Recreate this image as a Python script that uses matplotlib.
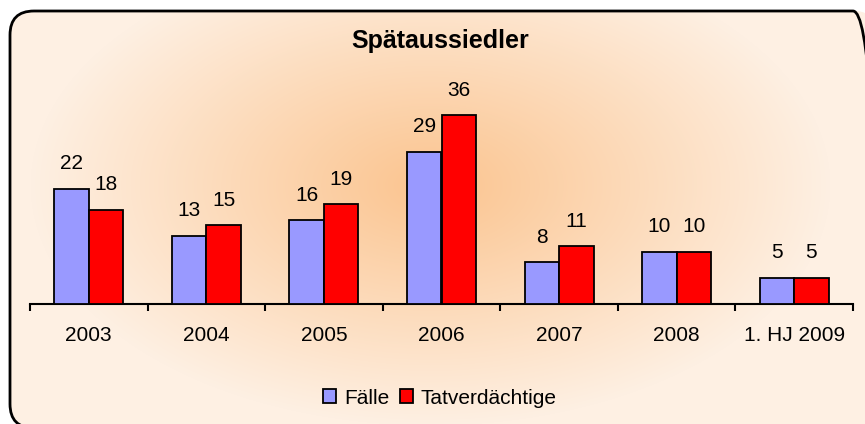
import numpy as np
import matplotlib
matplotlib.use("Agg")
import matplotlib.pyplot as plt
from matplotlib.patches import FancyBboxPatch, Patch
from matplotlib.colors import to_rgb

plt.rcParams['font.family'] = ['Liberation Sans', 'DejaVu Sans']

title = "Spätaussiedler"
categories = ["2003", "2004", "2005", "2006", "2007", "2008", "1. HJ 2009"]
faelle = [22, 13, 16, 29, 8, 10, 5]
tatverdaechtige = [18, 15, 19, 36, 11, 10, 5]
series_names = ["Fälle", "Tatverdächtige"]

W, H = 865, 424
fig = plt.figure(figsize=(W / 100, H / 100), dpi=100)
fig.patch.set_facecolor('white')

# background layer (pixel coordinates, y up)
bg = fig.add_axes([0, 0, 1, 1])
bg.axis('off')

bx0, by_top, bx1, by_bot = 10, 11, 877, 428
r = 24
X0, Y0 = bx0, H - by_bot
BW, BH = bx1 - bx0, by_bot - by_top
style = f"round,pad=0,rounding_size={r}"

# radial gradient
yy, xx = np.mgrid[0:H, 0:W]
cx, cy = 430, 185
d = np.sqrt(((xx - cx) / 400.0) ** 2 + ((yy - cy) / 240.0) ** 2)
t = np.clip(d, 0, 1)
c_in = np.array(to_rgb('#fbc48f'))
c_out = np.array(to_rgb('#fef0e3'))
img = c_in[None, None, :] * (1 - t[..., None]) + c_out[None, None, :] * t[..., None]
im = bg.imshow(img, extent=(0, W, 0, H), origin='upper', zorder=1, aspect='auto')

shadow = FancyBboxPatch((X0 + 6, Y0 - 6), BW, BH, boxstyle=style,
                        facecolor='#111111', edgecolor='none', zorder=0, clip_on=False)
bg.add_patch(shadow)
base = FancyBboxPatch((X0, Y0), BW, BH, boxstyle=style,
                      facecolor='#fef0e3', edgecolor='none', zorder=0.5, clip_on=False)
bg.add_patch(base)
clip = FancyBboxPatch((X0, Y0), BW, BH, boxstyle=style,
                      facecolor='none', edgecolor='none', transform=bg.transData)
im.set_clip_path(clip)
frame = FancyBboxPatch((X0, Y0), BW, BH, boxstyle=style,
                       facecolor='none', edgecolor='black', linewidth=2, zorder=3, clip_on=False)
bg.add_patch(frame)
bg.set_xlim(0, W)
bg.set_ylim(0, H)

# chart axes
left = 30 / W
right = 853 / W
bottom = (H - 304) / H
top = (H - 94) / H
ax = fig.add_axes([left, bottom, right - left, top - bottom])
ax.patch.set_alpha(0)
n = len(categories)
x = np.arange(n)
bw = 0.293
b1 = ax.bar(x - bw / 2, faelle, bw, color='#9999ff', edgecolor='black', linewidth=1.3, zorder=3)
b2 = ax.bar(x + bw / 2, tatverdaechtige, bw, color='#ff0000', edgecolor='black', linewidth=1.3, zorder=3)
for bars, vals in ((b1, faelle), (b2, tatverdaechtige)):
    for rect, v in zip(bars, vals):
        ax.annotate(str(v), (rect.get_x() + rect.get_width() / 2, rect.get_height()),
                    xytext=(0, 14), textcoords='offset points', ha='center', va='baseline',
                    fontsize=15)
ax.set_xlim(-0.5, n - 0.5)
ax.set_ylim(0, 40)
for s in ['top', 'right', 'left']:
    ax.spines[s].set_visible(False)
ax.spines['bottom'].set_linewidth(1.5)
ax.set_yticks([])
ax.set_xticks(x)
ax.set_xticklabels(categories, fontsize=15)
ax.tick_params(axis='x', which='major', length=0, pad=16)
ax.set_xticks(np.arange(-0.5, n, 1.0), minor=True)
ax.tick_params(axis='x', which='minor', length=5, width=1.5, direction='out')

fig.text(440 / W, 1 - 48 / H, title, ha='center', va='baseline', fontsize=18, fontweight='bold')

handles = [Patch(facecolor='#9999ff', edgecolor='black', linewidth=1.3, label=series_names[0]),
           Patch(facecolor='#ff0000', edgecolor='black', linewidth=1.3, label=series_names[1])]
fig.legend(handles=handles, loc='center', bbox_to_anchor=(440 / W, 1 - 398 / H), ncol=2,
           frameon=False, fontsize=15, handlelength=0.62, handleheight=0.62,
           handletextpad=0.38, columnspacing=0.53, borderpad=0)

fig.savefig('out.png', dpi=100)
